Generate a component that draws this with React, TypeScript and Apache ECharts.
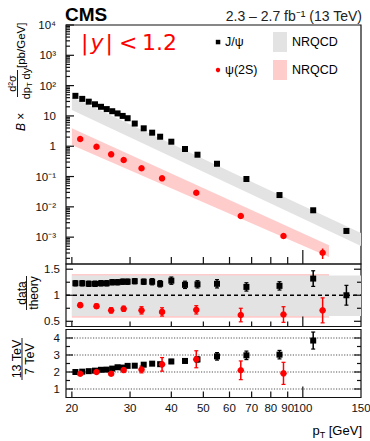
import React, { useEffect, useRef } from "react";
import * as echarts from "echarts";

// ---------------- data ----------------
const jpsiPt = [20.5, 21.5, 22.5, 23.5, 24.5, 25.5, 26.5, 27.5, 28.5, 29.5, 31, 33, 35, 37, 40, 44, 48, 55, 67.5, 85, 107.5, 135.5];
const jpsiXsec = [46, 36.5, 29.5, 24.2, 20, 16.8, 14.3, 12.1, 10, 8.4, 5.6, 3.9, 2.8, 2.06, 1.41, 0.81, 0.525, 0.264, 0.083, 0.0245, 0.0077, 0.0016];
const jpsiXsecRelErr = [0.03, 0.03, 0.03, 0.03, 0.03, 0.03, 0.03, 0.03, 0.03, 0.03, 0.03, 0.03, 0.04, 0.04, 0.04, 0.05, 0.05, 0.05, 0.06, 0.07, 0.1, 0.15];

const psiPt = [21.2, 23.75, 26.3, 28.7, 32.5, 37.5, 47.6, 64.9, 87.4, 114.8];
const psiXsec = [1.73, 0.96, 0.54, 0.351, 0.187, 0.0873, 0.0292, 0.00497, 0.00109, 0.000306];
const psiXsecRelErr = [0.04, 0.04, 0.05, 0.05, 0.06, 0.07, 0.08, 0.12, 0.15, 0.38];

// NRQCD bands (cross section)
const jpsiBandPt = [20, 40, 70, 150];
const jpsiBandLo = [15.7, 0.447, 0.0253, 5.1e-4];
const jpsiBandHi = [42, 1.2, 0.0679, 1.37e-3];
const psiBandPt = [20, 120];
const psiBandLo = [1.1, 2.2e-4];
const psiBandHi = [3.9, 5.4e-4];

// data / theory
const jpsiRatio = [1.23, 1.23, 1.22, 1.22, 1.23, 1.23, 1.25, 1.25, 1.26, 1.26, 1.27, 1.26, 1.26, 1.22, 1.28, 1.2, 1.21, 1.22, 1.16, 1.18, 1.32, 1.0];
const jpsiRatioErr = [0.05, 0.05, 0.05, 0.05, 0.05, 0.05, 0.05, 0.05, 0.05, 0.05, 0.05, 0.05, 0.06, 0.06, 0.07, 0.07, 0.07, 0.08, 0.08, 0.08, 0.15, 0.19];
const psiRatio = [0.81, 0.79, 0.71, 0.74, 0.71, 0.68, 0.72, 0.62, 0.63, 0.71];
const psiRatioErr = [0.04, 0.04, 0.05, 0.05, 0.07, 0.08, 0.08, 0.13, 0.15, 0.24];
const jpsiRatioBandPt = [20, 150];
const jpsiRatioBandLo = [0.6, 0.6];
const jpsiRatioBandHi = [1.38, 1.38];
const psiRatioBandPt = [20, 120];
const psiRatioBandLo = [0.57, 0.57];
const psiRatioBandHi = [1.41, 1.41];
const ratioReference = 1;

// 13 TeV / 7 TeV
const jpsiEnergyPt = [20.5, 21.5, 22.5, 23.5, 24.5, 25.5, 26.5, 27.5, 28.5, 29.5, 31, 33, 35, 37, 40, 44, 48, 55, 67.5, 85, 107.5];
const jpsiEnergyRatio = [2.0, 2.02, 2.05, 2.08, 2.13, 2.14, 2.2, 2.28, 2.26, 2.36, 2.37, 2.43, 2.49, 2.46, 2.62, 2.65, 2.74, 2.92, 2.98, 3.02, 3.85];
const jpsiEnergyErr = [0.04, 0.04, 0.04, 0.04, 0.04, 0.05, 0.05, 0.05, 0.05, 0.05, 0.06, 0.07, 0.08, 0.09, 0.12, 0.12, 0.15, 0.22, 0.25, 0.25, 0.5];
const psiEnergyPt = [21.2, 23.75, 26.3, 28.7, 32.5, 37.5, 47.6, 64.9, 87.4];
const psiEnergyRatio = [1.9, 2.0, 1.9, 2.12, 2.15, 2.45, 2.75, 2.1, 1.92];
const psiEnergyErr = [0.06, 0.07, 0.08, 0.15, 0.2, 0.4, 0.5, 0.55, 0.65];
const energyGridLines = [1, 2, 3, 4];

// axes / ticks
const X_MIN = 19.2;
const X_MAX = 150;
const TOP_Y_MIN = 1.3e-4;
const TOP_Y_MAX = 1e4;
const xTickValues = [20, 30, 40, 50, 60, 70, 80, 90, 100];
const xLabelValues = [20, 30, 40, 50, 60, 70, 80, 90, 100, 150];
const xLabels = ["20", "30", "40", "50", "60", "70", "80", "90", "100", "150"];
const topYLabelValues = [1e4, 1e3, 1e2, 10, 1, 0.1, 0.01, 0.001];
const topYLabels = ["10\u2074", "10\u00B3", "10\u00B2", "10", "1", "10\u207B\u00B9", "10\u207B\u00B2", "10\u207B\u00B3"];
const ratioYLabelValues = [1.5, 1, 0.5];
const ratioYLabels = ["1.5", "1", "0.5"];
const ratioMinorTicks = [0.75, 1.25];
const energyYLabelValues = [4, 3, 2, 1];
const energyYLabels = ["4", "3", "2", "1"];
const energyMinorTicks = [1.5, 2.5, 3.5];

// ---------------- helpers ----------------
const FONT = '"Liberation Sans", Arial, Helvetica, sans-serif';
const RED = "#ff0000";
const GRAY_BAND = "#e3e3e3";
const PINK_BAND = "#ffcccc";
const FRAME = "#111";

const ln = (x1: number, y1: number, x2: number, y2: number, lw = 1.2, stroke = FRAME, dash?: number[]) => ({
  type: "line",
  silent: true,
  shape: { x1, y1, x2, y2 },
  style: { stroke, lineWidth: lw, lineDash: dash },
});

const txt = (x: number, y: number, text: string, size: number, align = "center", va = "middle", extra: any = {}) => ({
  type: "text",
  x,
  y,
  silent: true,
  style: {
    text,
    fontSize: size,
    fontFamily: FONT,
    fill: "#000",
    align,
    verticalAlign: va,
    textAlign: align,
    textVerticalAlign: va,
    ...extra,
  },
});

function bandSeries(idx: number, pts: number[], lo: number[], hi: number[], color: string, z: number) {
  return {
    type: "custom",
    xAxisIndex: idx,
    yAxisIndex: idx,
    silent: true,
    z,
    clip: false,
    data: [[pts[0], lo[0]]],
    renderItem: (_p: any, api: any) => {
      const upper = pts.map((p, i) => api.coord([p, hi[i]]));
      const lower = pts.map((p, i) => api.coord([p, lo[i]])).reverse();
      return { type: "polygon", shape: { points: upper.concat(lower) }, style: { fill: color } };
    },
  };
}

function errSeries(idx: number, pts: number[], lo: number[], hi: number[], color: string, cap: number) {
  return {
    type: "custom",
    xAxisIndex: idx,
    yAxisIndex: idx,
    silent: true,
    z: 3,
    clip: false,
    data: pts.map((p, i) => [p, lo[i], hi[i]]),
    renderItem: (_p: any, api: any) => {
      const t = api.coord([api.value(0), api.value(2)]);
      const b = api.coord([api.value(0), api.value(1)]);
      const children: any[] = [ln(t[0], t[1], b[0], b[1], 1.5, color)];
      if (cap > 0) {
        children.push(ln(t[0] - cap, t[1], t[0] + cap, t[1], 1.2, color));
        children.push(ln(b[0] - cap, b[1], b[0] + cap, b[1], 1.2, color));
      }
      return { type: "group", children };
    },
  };
}

function markerSeries(idx: number, pts: number[], vals: number[], symbol: string, size: number, color: string) {
  return {
    type: "scatter",
    xAxisIndex: idx,
    yAxisIndex: idx,
    silent: true,
    z: 4,
    symbol,
    symbolSize: size,
    itemStyle: { color, opacity: 1 },
    data: pts.map((p, i) => [p, vals[i]]),
  };
}

function decorSeries(
  idx: number,
  yMin: number,
  xShort: number,
  xLong: number,
  yTicks: { v: number; len: number }[],
  rightTicks: boolean,
  labelVals: number[],
  labels: string[],
  labelOffset: number,
  withXLabels: boolean
) {
  return {
    type: "custom",
    xAxisIndex: idx,
    yAxisIndex: idx,
    silent: true,
    z: 10,
    clip: false,
    data: [[X_MIN, yMin]],
    renderItem: (_p: any, api: any) => {
      const ch: any[] = [];
      for (const v of xTickValues) {
        const p = api.coord([v, yMin]);
        const len = v === 100 ? xLong : xShort;
        ch.push(ln(p[0], p[1], p[0], p[1] - len, 1.2));
      }
      for (const t of yTicks) {
        const p = api.coord([X_MIN, t.v]);
        ch.push(ln(p[0], p[1], p[0] + t.len, p[1], 1.2));
        if (rightTicks) {
          const q = api.coord([X_MAX, t.v]);
          ch.push(ln(q[0], q[1], q[0] - t.len, q[1], 1.2));
        }
      }
      labelVals.forEach((v, i) => {
        const p = api.coord([X_MIN, v]);
        ch.push(txt(p[0] - labelOffset, p[1], labels[i], 11.5, "right", "middle", { fill: "#111" }));
      });
      if (withXLabels) {
        xLabelValues.forEach((v, i) => {
          const p = api.coord([v, yMin]);
          ch.push(txt(p[0], p[1] + 10, xLabels[i], 11.5, "center", "middle", { fill: "#111" }));
        });
      }
      return { type: "group", children: ch };
    },
  };
}

function buildOption() {
  const hidden = {
    axisLine: { show: false },
    axisTick: { show: false },
    axisLabel: { show: false },
    splitLine: { show: false },
  };
  const grids = [
    { left: 66, top: 25, width: 295, height: 239 },
    { left: 66, top: 264, width: 295, height: 62.5 },
    { left: 66, top: 329.5, width: 295, height: 68 },
  ].map((g) => ({ ...g, show: true, borderColor: FRAME, borderWidth: 1.2, backgroundColor: "transparent" }));

  const xAxis = [0, 1, 2].map((i) => ({ type: "log", logBase: 10, gridIndex: i, min: X_MIN, max: X_MAX, ...hidden }));
  const yAxis = [
    { type: "log", logBase: 10, gridIndex: 0, min: TOP_Y_MIN, max: TOP_Y_MAX, ...hidden },
    { type: "value", gridIndex: 1, min: 0.4, max: 1.6, ...hidden },
    { type: "value", gridIndex: 2, min: 0.5, max: 4.5, ...hidden },
  ];

  // top panel ticks
  const topTicks: { v: number; len: number }[] = [];
  for (let k = -4; k <= 4; k++) {
    for (let m = 1; m <= 9; m++) {
      const v = m * Math.pow(10, k);
      if (v < TOP_Y_MIN || v > TOP_Y_MAX * 1.0001) continue;
      topTicks.push({ v, len: m === 1 ? 8 : 4 });
    }
  }
  const ratioTicks = ratioYLabelValues.map((v) => ({ v, len: 7 })).concat(ratioMinorTicks.map((v) => ({ v, len: 4 })));
  const energyTicks = energyYLabelValues.map((v) => ({ v, len: 7 })).concat(energyMinorTicks.map((v) => ({ v, len: 4 })));

  const series: any[] = [
    // ---- top panel ----
    bandSeries(0, psiBandPt, psiBandLo, psiBandHi, PINK_BAND, 1),
    bandSeries(0, jpsiBandPt, jpsiBandLo, jpsiBandHi, GRAY_BAND, 1),
    errSeries(
      0,
      jpsiPt,
      jpsiXsec.map((v, i) => v * (1 - jpsiXsecRelErr[i])),
      jpsiXsec.map((v, i) => v * (1 + jpsiXsecRelErr[i])),
      "#000",
      0
    ),
    errSeries(
      0,
      psiPt,
      psiXsec.map((v, i) => v * (1 - psiXsecRelErr[i])),
      psiXsec.map((v, i) => v * (1 + psiXsecRelErr[i])),
      RED,
      0
    ),
    markerSeries(0, jpsiPt, jpsiXsec, "rect", 6, "#000"),
    markerSeries(0, psiPt, psiXsec, "circle", 6.5, RED),
    decorSeries(0, TOP_Y_MIN, 7, 14, topTicks, false, topYLabelValues, topYLabels, 10, false),

    // ---- data / theory ----
    bandSeries(1, psiRatioBandPt, psiRatioBandLo, psiRatioBandHi, PINK_BAND, 1),
    bandSeries(1, jpsiRatioBandPt, jpsiRatioBandLo, jpsiRatioBandHi, GRAY_BAND, 1),
    {
      type: "custom",
      xAxisIndex: 1,
      yAxisIndex: 1,
      silent: true,
      z: 2,
      data: [[X_MIN, ratioReference]],
      renderItem: (_p: any, api: any) => {
        const a = api.coord([X_MIN, api.value(1)]);
        const b = api.coord([X_MAX, api.value(1)]);
        return ln(a[0], a[1], b[0], b[1], 1.3, "#000", [4, 3]);
      },
    },
    errSeries(1, jpsiPt, jpsiRatio.map((v, i) => v - jpsiRatioErr[i]), jpsiRatio.map((v, i) => v + jpsiRatioErr[i]), "#000", 2),
    errSeries(1, psiPt, psiRatio.map((v, i) => v - psiRatioErr[i]), psiRatio.map((v, i) => v + psiRatioErr[i]), RED, 2),
    markerSeries(1, jpsiPt, jpsiRatio, "rect", 6, "#000"),
    markerSeries(1, psiPt, psiRatio, "circle", 6.5, RED),
    decorSeries(1, 0.4, 5, 10, ratioTicks, true, ratioYLabelValues, ratioYLabels, 6, false),

    // ---- 13 TeV / 7 TeV ----
    {
      type: "custom",
      xAxisIndex: 2,
      yAxisIndex: 2,
      silent: true,
      z: 2,
      data: energyGridLines.map((v) => [X_MIN, v]),
      renderItem: (_p: any, api: any) => {
        const a = api.coord([X_MIN, api.value(1)]);
        const b = api.coord([X_MAX, api.value(1)]);
        return ln(a[0], a[1], b[0], b[1], 1.2, "#555", [1.2, 1.5]);
      },
    },
    errSeries(2, jpsiEnergyPt, jpsiEnergyRatio.map((v, i) => v - jpsiEnergyErr[i]), jpsiEnergyRatio.map((v, i) => v + jpsiEnergyErr[i]), "#000", 2),
    errSeries(2, psiEnergyPt, psiEnergyRatio.map((v, i) => v - psiEnergyErr[i]), psiEnergyRatio.map((v, i) => v + psiEnergyErr[i]), RED, 2),
    markerSeries(2, jpsiEnergyPt, jpsiEnergyRatio, "rect", 6, "#000"),
    markerSeries(2, psiEnergyPt, psiEnergyRatio, "circle", 6.5, RED),
    decorSeries(2, 0.5, 6, 11, energyTicks, true, energyYLabelValues, energyYLabels, 6, true),
  ];

  const gtxt = (x: number, y: number, text: string, size: number, align = "left", va = "middle", extra: any = {}) => ({
    type: "text",
    x,
    y,
    silent: true,
    style: {
      text,
      fontSize: size,
      fontFamily: FONT,
      fill: "#000",
      align,
      verticalAlign: va,
      textAlign: align,
      textVerticalAlign: va,
      ...extra,
    },
  });

  const MATH = '"DejaVu Sans", sans-serif';
  const graphic: any[] = [
    gtxt(65, 14, "CMS", 19, "left", "middle", { fontWeight: "bold" }),
    gtxt(362, 15.5, "2.3 \u2013 2.7 fb\u207B\u00B9 (13 TeV)", 14, "right", "middle", { fill: "#222" }),
    // |y| < 1.2
    gtxt(81, 42, "{n||}{i|y}{n||}", 22, "left", "middle", {
      fill: RED,
      rich: {
        n: { fontSize: 22, fontFamily: MATH, fill: RED },
        i: { fontSize: 22, fontFamily: MATH, fontStyle: "italic", fill: RED, padding: [0, 2, 0, 2] },
      },
    }),
    gtxt(119, 42, "<", 22, "left", "middle", { fill: RED, fontFamily: MATH }),
    gtxt(142, 42, "1.2", 22, "left", "middle", { fill: RED, fontFamily: MATH }),
    // legend
    { type: "rect", silent: true, shape: { x: 215.8, y: 39.8, width: 4.5, height: 4.5 }, style: { fill: "#000" } },
    gtxt(225, 42, "J/\u03C8", 12.5),
    { type: "rect", silent: true, shape: { x: 273, y: 32, width: 14, height: 20 }, style: { fill: GRAY_BAND } },
    gtxt(292, 42, "NRQCD", 12.5),
    { type: "circle", silent: true, shape: { cx: 218, cy: 70, r: 2.2 }, style: { fill: RED } },
    gtxt(225, 70, "\u03C8(2S)", 12.5),
    { type: "rect", silent: true, shape: { x: 273, y: 60, width: 14, height: 20 }, style: { fill: PINK_BAND } },
    gtxt(292, 70, "NRQCD", 12.5),
    // y title top panel
    {
      type: "group",
      x: 21,
      y: 131,
      rotation: Math.PI / 2,
      children: [
        gtxt(0, 0, "{i|B} \u00D7", 12, "left", "middle", {
          rich: { i: { fontStyle: "italic", fontSize: 12, fontFamily: FONT } },
        }),
        ln(34, -3.5, 61, -3.5, 0.9, "#000"),
        gtxt(47.5, -4, "d\u00B2\u03C3", 11, "center", "bottom"),
        gtxt(47.5, -2.5, "dp{s|T} dy", 11, "center", "top", {
          lineHeight: 15,
          rich: { s: { fontSize: 7.5, fontFamily: FONT, verticalAlign: "bottom", lineHeight: 8 } },
        }),
        gtxt(63, 0, "[pb/GeV]", 11.5, "left", "middle"),
      ],
    },
    // y title ratio panel
    {
      type: "group",
      x: 26.5,
      y: 293,
      rotation: Math.PI / 2,
      children: [
        ln(-17, 0, 17, 0, 0.9, "#000"),
        gtxt(0, 1.5, "data", 12, "center", "bottom"),
        gtxt(0, 1, "theory", 12, "center", "top"),
      ],
    },
    // y title energy ratio panel
    {
      type: "group",
      x: 22,
      y: 359,
      rotation: Math.PI / 2,
      children: [
        ln(-21, 0, 21, 0, 0.9, "#000"),
        gtxt(0, 1.5, "13 TeV", 12.5, "center", "bottom"),
        gtxt(0, 1, "7 TeV", 12.5, "center", "top"),
      ],
    },
    // x title
    gtxt(362, 430, "p{s|T} [GeV]", 13, "right", "middle", {
      lineHeight: 18,
      rich: { s: { fontSize: 9, fontFamily: FONT, verticalAlign: "bottom", lineHeight: 9 } },
    }),
  ];

  return {
    animation: false,
    backgroundColor: "#fff",
    textStyle: { fontFamily: FONT },
    grid: grids,
    xAxis,
    yAxis,
    series,
    graphic,
  };
}

export default function App() {
  const ref = useRef<HTMLDivElement>(null);
  useEffect(() => {
    const chart = echarts.init(ref.current!, null, { renderer: "svg" });
    chart.setOption(buildOption() as any);
    return () => chart.dispose();
  }, []);
  return (
    <div
      ref={ref}
      style={{ position: "fixed", left: 0, top: 0, width: 370, height: 441, background: "#fff" }}
    />
  );
}
